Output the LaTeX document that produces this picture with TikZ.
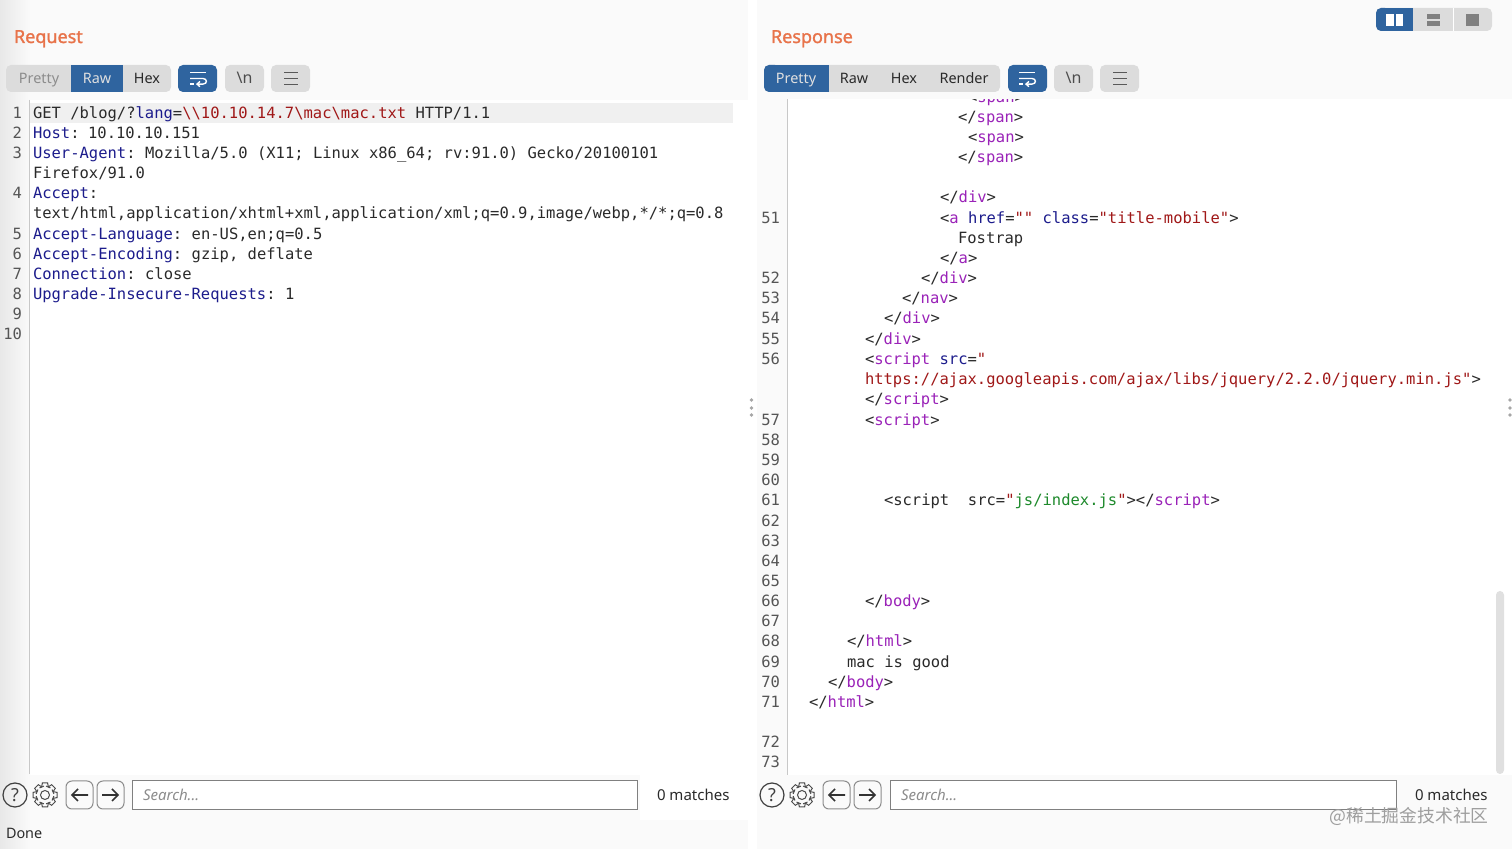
\documentclass[tikz,border=0pt]{standalone}
\usepackage{fontspec}
\setmainfont{Noto Sans}
\newfontfamily\cod{DejaVu Sans Mono}
\newfontfamily\cjkf{Noto Sans CJK SC}
\newfontfamily\hfont[FakeBold=1.4]{Noto Sans}
\definecolor{panel}{HTML}{FAFAFA}
\definecolor{btn}{HTML}{DCDCDC}
\definecolor{blu}{HTML}{2F649F}
\definecolor{org}{HTML}{E8734A}
\definecolor{kw}{HTML}{1C1C8C}
\definecolor{val}{HTML}{A01818}
\definecolor{tag}{HTML}{9A22B8}
\definecolor{grn}{HTML}{1E8A2C}
\definecolor{txt}{HTML}{2A2A2A}
\definecolor{lnum}{HTML}{555555}
\definecolor{rule}{HTML}{C8C8C8}
\definecolor{edge}{HTML}{808080}
\newcommand{\K}[1]{\textcolor{kw}{#1}}
\newcommand{\V}[1]{\textcolor{val}{#1}}
\newcommand{\T}[1]{\textcolor{tag}{#1}}
\newcommand{\G}[1]{\textcolor{grn}{#1}}
\newcommand{\bs}{\symbol{92}}
\newcommand{\sq}{\kern-1.5pt}
\newcount\autoid
\newcommand{\cl}[3]{\global\advance\autoid by 1 \node[code] (c\the\autoid) at (#1,#2) {#3};}
\newcommand{\nm}[3]{\global\advance\autoid by 1 \node[numb] (c\the\autoid) at (#1,#2) {#3};}
\newcommand{\wrapicon}[2]{%
  \begin{scope}[shift={(#1,#2)},draw=white,line width=0.7pt]
    \draw (-8,-6) -- (8,-6);
    \draw (-8,0) -- (5,0) .. controls (9.5,0) and (9.5,5.6) .. (5,5.6) -- (-1,5.6);
    \draw (-8,5.6) -- (-4,5.6);
    \draw (2,3) -- (-1,5.6) -- (2,8.2);
  \end{scope}}
\newcommand{\burger}[2]{%
  \begin{scope}[shift={(#1,#2)},draw=black!65,line width=0.9pt]
    \draw (-7,-6) -- (7,-6) (-7,0) -- (7,0) (-7,6) -- (7,6);
  \end{scope}}
\newcommand{\gear}[2]{%
  \begin{scope}[shift={(#1,#2)}]
    \draw[line width=0.5pt,draw=black!70] (0,0) circle (4.5);
    \foreach \a in {0,45,...,315}{
      \draw[line width=0.5pt,draw=black!70,rotate=\a] (-8,-3.4) -- (-12,-2.6) -- (-12,2.6) -- (-8,3.4);
      \draw[line width=0.5pt,draw=black!70,rotate=\a+22.5] (-8.6,-2.4) -- (-8.6,2.4);
    }
  \end{scope}}
\newcommand{\bottombar}[4]{% x offset, search left, search right, matches
  \begin{scope}[shift={(#1,0)}]
    \draw[line width=0.6pt,draw=black!75] (15,795) circle (12);
    \node[ui,text=black!75,font=\fontsize{9}{9}\selectfont] at (15,795) {?};
    \gear{45}{795}
    \draw[line width=0.5pt,draw=black!45,rounded corners=3] (66,781) rectangle (93,809);
    \draw[line width=0.5pt,draw=black!45,rounded corners=3] (97,781) rectangle (124,809);
    \draw[line width=0.8pt,draw=black!80] (88,795) -- (72,795) (78,789) -- (72,795) -- (78,801);
    \draw[line width=0.8pt,draw=black!80] (102,795) -- (118,795) (112,789) -- (118,795) -- (112,801);
  \end{scope}
  \draw[line width=0.5pt,draw=edge,fill=white] (#2,781) rectangle (#3,810);
  \node[ui,anchor=base west,text=black!45,font=\fontsize{7.5}{9}\selectfont\itshape] at (#2+11,801) {Search...};
  \node[ui,anchor=base west,text=txt,font=\fontsize{7.5}{9}\selectfont] at (#4,801) {0 matches};}
\tikzset{
  code/.style={anchor=base west,inner sep=0,outer sep=0,text=txt,yshift=-0.4pt,font=\fontsize{7.75}{9}\cod},
  numb/.style={anchor=base east,inner sep=0,outer sep=0,text=lnum,yshift=-0.4pt,font=\fontsize{7.75}{9}\cod},
  ui/.style={inner sep=0,outer sep=0,text=txt,font=\fontsize{7.2}{9}\selectfont},
  tb/.style={ui,anchor=base},
  head/.style={inner sep=0,outer sep=0,anchor=base west,text=org,font=\fontsize{9}{11}\hfont},
  btnbox/.style={fill=btn,rounded corners=2.5pt,draw=none},
  bluebox/.style={fill=blu,rounded corners=2.5pt,draw=none},
}
\begin{document}
\begin{tikzpicture}[x=0.5pt,y=-0.5pt]
\useasboundingbox (0,0) rectangle (1512,849);
\fill[panel] (0,0) rectangle (1512,849);
\fill[white] (748,0) rectangle (757,849);
\shade[left color=black!9,right color=panel] (0,0) rectangle (30,849);
% editors
\fill[white] (30,100) rectangle (748,775);
\fill[white] (787,90) rectangle (1512,775);
\fill[black!2] (757,90) rectangle (787,775);
\fill[black!6] (30,103) rectangle (733,123);
\draw[rule,line width=0.5pt] (29,100) -- (29,775);
\draw[rule,line width=0.5pt] (787,95) -- (787,775);

% left numbers
\nm{22}{118}{1}\nm{22}{138}{2}\nm{22}{158}{3}\nm{22}{198}{4}\nm{22}{239}{5}\nm{22}{259}{6}\nm{22}{279}{7}\nm{22}{299}{8}\nm{22}{319}{9}\nm{22}{339}{10}
% left text
\cl{33}{118}{GET /blog/?\K{lang}=\V{\bs\bs10.10.14.7\bs mac\bs mac.txt} HTTP/1.1}
\cl{33}{138}{\K{Host}: \kern-2pt 10.10.10.151}
\cl{33}{158}{\K{User-Agent}: \sq Mozilla/5.0 (X11; Linux x86\_64; rv:91.0) Gecko/20100101}
\cl{33}{178}{Firefox/91.0}
\cl{33}{198}{\K{Accept}:}
\cl{33}{218}{text/html,application/xhtml+xml,application/xml;q=0.9,image/webp,*/*;q=0.8}
\cl{33}{239}{\K{Accept-Language}: \sq en-US,en;q=0.5}
\cl{33}{259}{\K{Accept-Encoding}: \sq gzip, deflate}
\cl{33}{279}{\K{Connection}: \sq close}
\cl{33}{299}{\K{Upgrade-Insecure-Requests}: \sq 1}

% right numbers
\nm{780}{223}{51}\nm{780}{283}{52}\nm{780}{303}{53}\nm{780}{323}{54}\nm{780}{344}{55}\nm{780}{364}{56}\nm{780}{425}{57}\nm{780}{445}{58}\nm{780}{465}{59}\nm{780}{485}{60}\nm{780}{505}{61}\nm{780}{526}{62}\nm{780}{546}{63}\nm{780}{566}{64}\nm{780}{586}{65}\nm{780}{606}{66}\nm{780}{626}{67}\nm{780}{646}{68}\nm{780}{667}{69}\nm{780}{687}{70}\nm{780}{707}{71}\nm{780}{747}{72}\nm{780}{767}{73}
% right text
\cl{968}{102}{<\T{span}>}
\cl{958}{122}{</\T{span}>}
\cl{968}{142}{<\T{span}>}
\cl{958}{162}{</\T{span}>}
\cl{940}{202}{</\T{div}>}
\cl{940}{223}{<\T{a} \K{href}=\V{""} \K{class}=\V{"title-mobile"}>}
\cl{958}{243}{Fostrap}
\cl{940}{263}{</\T{a}>}
\cl{921}{283}{</\T{div}>}
\cl{902}{303}{</\T{nav}>}
\cl{884}{323}{</\T{div}>}
\cl{865}{344}{</\T{div}>}
\cl{865}{364}{<\T{script} \K{src}=\V{"}}
\cl{865}{384}{\V{https://ajax.googleapis.com/ajax/libs/jquery/2.2.0/jquery.min.js"}>}
\cl{865}{404}{</\T{script}>}
\cl{865}{425}{<\T{script}>}
\cl{884}{505}{<script \ src=\V{"}\G{js/index.js}\V{"}></\T{script}>}
\cl{865}{606}{</\T{body}>}
\cl{847}{646}{</\T{html}>}
\cl{847}{667}{mac is good}
\cl{828}{687}{</\T{body}>}
\cl{809}{707}{</\T{html}>}

% top panels (cover the clipped line)
\fill[panel] (30,0) rectangle (748,100);
\fill[panel] (757,0) rectangle (1512,99);
\node[head] (reqhead) at (14,43) {Request};
\node[head] (resphead) at (771,43) {Response};

% left toolbar
\fill[btn,rounded corners=2.5pt] (6,65) rectangle (171,92);
\fill[blu] (71,65) rectangle (123,92);
\node[tb,text=black!45] (reqpretty) at (39,83.5) {Pretty};
\node[tb,text=white!88!black] (reqraw) at (97,83.5) {Raw};
\node[tb] (reqhex) at (147,83.5) {Hex};
\fill[bluebox] (178,65) rectangle (217,92);
\wrapicon{198}{78.5}
\fill[btnbox] (225,65) rectangle (264,92);
\node[tb,text=black!70,font=\fontsize{8}{9}\selectfont] (reqnl) at (244.5,84) {\bs n};
\fill[btnbox] (271,65) rectangle (310,92);
\burger{291}{78.5}

% right toolbar
\fill[btn,rounded corners=2.5pt] (764,65) rectangle (1000,92);
\fill[blu,rounded corners=2.5pt] (764,65) rectangle (780,92);
\fill[blu] (770,65) rectangle (829,92);
\node[tb,text=white!88!black] (resppretty) at (796,83.5) {Pretty};
\node[tb] (respraw) at (854,83.5) {Raw};
\node[tb] (resphex) at (904,83.5) {Hex};
\node[tb] (resprender) at (964,83.5) {Render};
\fill[bluebox] (1008,65) rectangle (1047,92);
\wrapicon{1027}{78.5}
\fill[btnbox] (1054,65) rectangle (1093,92);
\node[tb,text=black!70,font=\fontsize{8}{9}\selectfont] (respnl) at (1073.5,84) {\bs n};
\fill[btnbox] (1100,65) rectangle (1139,92);
\burger{1120}{78.5}

% layout selector
\fill[btn,rounded corners=2.5pt] (1376,8) rectangle (1492,31);
\fill[blu,rounded corners=2.5pt] (1376,8) rectangle (1390,31);
\fill[blu] (1382,8) rectangle (1413,31);
\draw[white,line width=0.4pt] (1453,8) -- (1453,31);
\fill[white] (1386,14) rectangle (1394,26);
\fill[white] (1396,14) rectangle (1403,26);
\fill[black!50] (1427,14) rectangle (1440,19);
\fill[black!50] (1427,21) rectangle (1440,26);
\fill[black!50] (1466,14) rectangle (1479,26);

% splitter dots and scroll bar
\foreach \yy in {400,408,415}{\fill[black!35] (751.5,\yy) circle (1.8);\fill[black!35] (1510,\yy) circle (1.8);}
\fill[black!12,rounded corners=2pt] (1496,591) rectangle (1504,774);

% bottom bars
\fill[panel] (0,775) rectangle (748,849);
\shade[left color=black!9,right color=panel] (0,775) rectangle (30,849);
\fill[white] (640,775) rectangle (748,820);
\fill[panel] (757,775) rectangle (1512,849);
\bottombar{0}{132}{637}{657}
\bottombar{757}{890}{1396}{1415}
\node[ui,anchor=base west] (done) at (6,838.5) {Done};
\node[inner sep=0,anchor=base east,text=black!38,font=\fontsize{8.9}{10}\cjkf] (mark) at (1489,822.5) {@稀土掘金技术社区};
\end{tikzpicture}
\end{document}
